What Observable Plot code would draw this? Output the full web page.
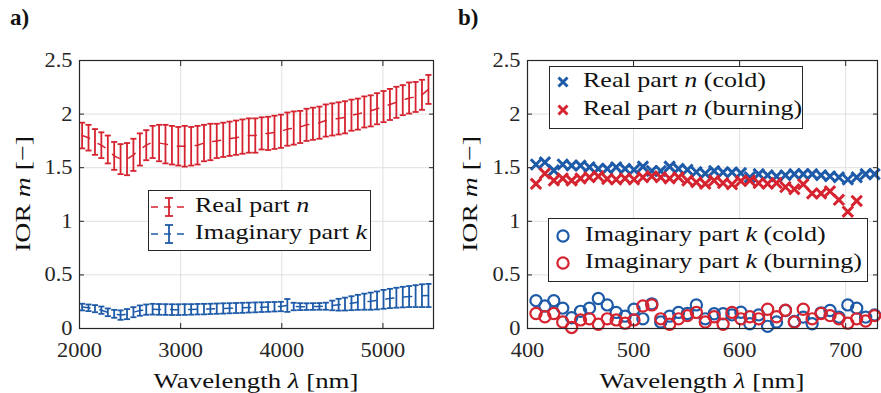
<!DOCTYPE html>
<html><head><meta charset="utf-8">
<script src="https://cdn.jsdelivr.net/npm/d3@7"></script>
<script src="https://cdn.jsdelivr.net/npm/@observablehq/plot@0.6"></script>
<style>
body{margin:0;background:#fff;}
#root{position:relative;width:881px;height:393px;overflow:hidden;font-family:"Liberation Serif","Times New Roman",Times,serif;color:#111;}
.abs{position:absolute;white-space:nowrap;}
.sx{display:inline-block;transform-origin:left center;}
.leg{position:absolute;box-sizing:border-box;border:1.2px solid #262626;background:#fff;}
</style></head><body><div id="root"></div>
<script>
const RED = "#d5232f", BLUE = "#1d5aa8";

// ---------- panel a) data ----------
const wlA = [2026,2089,2153,2216,2280,2343,2406,2470,2533,2597,2660,2723,2787,2850,2914,2977,3040,3104,3167,3231,3294,3357,3421,3484,3548,3611,3674,3738,3801,3865,3928,3991,4055,4118,4182,4245,4308,4372,4435,4499,4562,4625,4689,4752,4816,4879,4942,5006,5069,5133,5196,5259,5323,5386,5450];
const nMean = [1.80,1.78,1.74,1.71,1.67,1.61,1.58,1.58,1.62,1.67,1.71,1.74,1.73,1.72,1.71,1.70,1.70,1.70,1.71,1.73,1.74,1.75,1.76,1.77,1.78,1.79,1.80,1.80,1.82,1.82,1.83,1.84,1.86,1.87,1.88,1.90,1.91,1.92,1.94,1.95,1.96,1.97,1.99,2.00,2.02,2.03,2.05,2.07,2.09,2.11,2.13,2.15,2.16,2.18,2.23];
const nErr = [0.12,0.12,0.12,0.12,0.13,0.13,0.14,0.15,0.15,0.15,0.14,0.15,0.17,0.18,0.18,0.18,0.19,0.18,0.18,0.17,0.17,0.16,0.16,0.16,0.16,0.16,0.16,0.16,0.15,0.155,0.155,0.155,0.155,0.155,0.15,0.15,0.15,0.15,0.15,0.15,0.15,0.15,0.145,0.145,0.145,0.145,0.145,0.145,0.145,0.145,0.14,0.145,0.14,0.14,0.135];
const kMean = [0.200,0.193,0.185,0.171,0.151,0.137,0.125,0.134,0.152,0.167,0.176,0.180,0.178,0.177,0.176,0.176,0.177,0.178,0.180,0.181,0.183,0.185,0.187,0.189,0.191,0.193,0.195,0.197,0.199,0.201,0.203,0.205,0.215,0.205,0.204,0.204,0.205,0.206,0.208,0.215,0.222,0.228,0.236,0.244,0.250,0.255,0.262,0.272,0.280,0.287,0.293,0.298,0.302,0.306,0.308];
const kErr = [0.031,0.031,0.033,0.034,0.036,0.037,0.044,0.047,0.047,0.048,0.048,0.05,0.05,0.05,0.05,0.05,0.05,0.049,0.049,0.049,0.048,0.048,0.048,0.047,0.047,0.047,0.046,0.046,0.045,0.045,0.044,0.044,0.06,0.035,0.032,0.031,0.031,0.031,0.033,0.045,0.055,0.06,0.065,0.07,0.075,0.08,0.084,0.088,0.09,0.093,0.096,0.098,0.102,0.106,0.108];

// ---------- panel b) data ----------
const wlB = [408,416.4,424.8,433.2,441.6,450,458.4,466.8,475.2,483.6,492,500.4,508.8,517.2,525.6,534,542.4,550.8,559.2,567.6,576,584.4,592.8,601.2,609.6,618,626.4,634.8,643.2,651.6,660,668.4,676.8,685.2,693.6,702,710.4,718.8,727.2];
const nCold = [1.53,1.55,1.475,1.53,1.52,1.52,1.505,1.49,1.49,1.505,1.49,1.48,1.51,1.47,1.47,1.51,1.49,1.48,1.46,1.445,1.47,1.457,1.457,1.45,1.41,1.44,1.43,1.42,1.43,1.44,1.44,1.44,1.43,1.42,1.41,1.39,1.41,1.44,1.44];
const nBurn = [1.35,1.445,1.38,1.40,1.38,1.40,1.41,1.42,1.395,1.39,1.40,1.39,1.41,1.42,1.41,1.40,1.41,1.38,1.365,1.35,1.38,1.357,1.345,1.375,1.38,1.357,1.35,1.357,1.32,1.30,1.345,1.26,1.26,1.28,1.20,1.09,1.19];
const kCold = [0.26,0.21,0.26,0.19,0.10,0.16,0.19,0.28,0.22,0.15,0.115,0.18,0.09,0.23,0.06,0.115,0.15,0.14,0.22,0.09,0.137,0.137,0.127,0.152,0.044,0.127,0.02,0.06,0.168,0.065,0.106,0.044,0.146,0.168,0.106,0.22,0.19,0.106,0.127];
const kBurn = [0.14,0.11,0.14,0.06,0.01,0.08,0.09,0.04,0.09,0.08,0.05,0.08,0.21,0.22,0.09,0.04,0.09,0.12,0.15,0.06,0.11,0.04,0.15,0.09,0.11,0.09,0.18,0.11,0.17,0.06,0.18,0.09,0.14,0.12,0.09,0.05,0.09,0.07,0.12];

// ---------- ticks / labels ----------
const yTicks = [0, 0.5, 1, 1.5, 2, 2.5];
const xTicksA = [2000, 3000, 4000, 5000];
const xTicksB = [400, 500, 600, 700];
const xDomainA = [2000, 5500], xDomainB = [400, 730], yDomain = [0, 2.5];
const legendA = ["Real part <i>n</i>", "Imaginary part <i>k</i>"];
const legendB1 = ["Real part <i>n</i> (cold)", "Real part <i>n</i> (burning)"];
const legendB2 = ["Imaginary part <i>k</i> (cold)", "Imaginary part <i>k</i> (burning)"];
const xLabel = "Wavelength <i>λ</i> [nm]";
const yLabel = "IOR <i>m</i> [−]";

const FONT = '"Liberation Serif","Times New Roman",Times,serif';
const AX = "#262626";

function baseMarks(xTicks) {
  const fmt = d => String(d);
  return {
    under: [
      Plot.gridX(xTicks, {stroke: "#e0e0e0", strokeOpacity: 1, strokeWidth: 1}),
      Plot.gridY(yTicks, {stroke: "#e0e0e0", strokeOpacity: 1, strokeWidth: 1})
    ],
    over: [
      Plot.axisX(xTicks, {anchor: "bottom", tickSize: 0, tickPadding: 14, tickFormat: fmt, label: null, fill: AX}),
      Plot.axisY(yTicks, {anchor: "left", tickSize: 0, tickPadding: 7, tickFormat: fmt, label: null, fill: AX}),
      Plot.axisX(xTicks, {anchor: "bottom", tickSize: -5, fill: "none", label: null, stroke: AX}),
      Plot.axisX(xTicks, {anchor: "top", tickSize: -5, fill: "none", label: null, stroke: AX}),
      Plot.axisY(yTicks, {anchor: "left", tickSize: -5, fill: "none", label: null, stroke: AX}),
      Plot.axisY(yTicks, {anchor: "right", tickSize: -5, fill: "none", label: null, stroke: AX}),
      Plot.frame({stroke: AX, strokeWidth: 1.2})
    ]
  };
}

function errMarks(xs, means, errs, color) {
  const data = xs.map((x, i) => ({x, m: means[i], e: errs[i]}));
  const cw = 30;
  return [
    Plot.ruleX(data, {x: "x", y1: d => d.m - d.e, y2: d => d.m + d.e, stroke: color, strokeWidth: 1.8}),
    Plot.link(data, {x1: d => d.x - cw, x2: d => d.x + cw, y1: d => d.m + d.e, y2: d => d.m + d.e, stroke: color, strokeWidth: 1.8}),
    Plot.link(data, {x1: d => d.x - cw, x2: d => d.x + cw, y1: d => d.m - d.e, y2: d => d.m - d.e, stroke: color, strokeWidth: 1.8}),
    Plot.line(data, {x: "x", y: "m", stroke: color, strokeWidth: 1.5, strokeDasharray: "8,10"})
  ];
}

const bmA = baseMarks(xTicksA);
const plotA = Plot.plot({
  width: 440, height: 393, marginLeft: 79, marginRight: 7, marginTop: 60, marginBottom: 65,
  style: {fontFamily: FONT, fontSize: "20px", background: "transparent", overflow: "visible"},
  x: {domain: xDomainA}, y: {domain: yDomain},
  marks: [...bmA.under, ...errMarks(wlA, kMean, kErr, BLUE), ...errMarks(wlA, nMean, nErr, RED), ...bmA.over]
});

const bmB = baseMarks(xTicksB);
const ptsB = (ys) => ys.map((y, i) => ({x: wlB[i], y}));
const plotB = Plot.plot({
  width: 434, height: 393, marginLeft: 80, marginRight: 4, marginTop: 60, marginBottom: 65,
  style: {fontFamily: FONT, fontSize: "20px", background: "transparent", overflow: "visible"},
  x: {domain: xDomainB}, y: {domain: yDomain},
  marks: [
    ...bmB.under,
    Plot.dot(ptsB(nCold), {x: "x", y: "y", symbol: "times", r: 4.8, stroke: BLUE, strokeWidth: 3}),
    Plot.dot(ptsB(nBurn), {x: "x", y: "y", symbol: "times", r: 4.8, stroke: RED, strokeWidth: 3}),
    Plot.dot(ptsB(kCold), {x: "x", y: "y", r: 5.6, stroke: BLUE, strokeWidth: 2.2, fill: "none"}),
    Plot.dot(ptsB(kBurn), {x: "x", y: "y", r: 5.6, stroke: RED, strokeWidth: 2.2, fill: "none"}),
    ...bmB.over
  ]
});

const root = document.getElementById("root");
function place(el, left, top) { el.style.position = "absolute"; el.style.left = left + "px"; el.style.top = top + "px"; root.appendChild(el); }
place(plotA, 0, 0);
place(plotB, 447, 0);

function stretchText(svg, s) {
  svg.querySelectorAll("text").forEach(t => {
    const g = document.createElementNS("http://www.w3.org/2000/svg", "g");
    t.parentNode.insertBefore(g, t); g.appendChild(t);
    const a = getComputedStyle(t).textAnchor;
    const o = a === "end" ? "right" : a === "middle" ? "center" : "left";
    g.style.transformBox = "fill-box"; g.style.transformOrigin = o + " center"; g.style.transform = `scaleX(${s})`;
  });
}
stretchText(plotA, 1.12); stretchText(plotB, 1.12);

function html(tag, cls, style, inner) { const e = document.createElement(tag); if (cls) e.className = cls; e.setAttribute("style", style); e.innerHTML = inner; return e; }

// panel letters
root.appendChild(html("div", "abs", "left:10px;top:6px;font-weight:bold;font-size:23px;line-height:23px;", "a)"));
root.appendChild(html("div", "abs", "left:458px;top:6px;font-weight:bold;font-size:23px;line-height:23px;", "b)"));

// axis labels
for (const cx of [256, 702]) {
  root.appendChild(html("div", "abs", `left:${cx}px;top:381px;font-size:22px;line-height:22px;transform:translate(-50%,-50%) scaleX(1.22);color:#111;`, xLabel));
}
for (const cx of [23, 470]) {
  root.appendChild(html("div", "abs", `left:${cx}px;top:194px;font-size:22px;line-height:22px;transform:translate(-50%,-50%) rotate(-90deg) scaleX(1.26);color:#111;`, yLabel));
}

// legends
function symErr(color) {
  return `<svg width="34" height="22" style="position:absolute;left:0;top:0"><line x1="0" y1="11" x2="34" y2="11" stroke="${color}" stroke-width="1.6" stroke-dasharray="7,6"/><line x1="18" y1="2" x2="18" y2="20" stroke="${color}" stroke-width="1.8"/><line x1="14" y1="2" x2="22" y2="2" stroke="${color}" stroke-width="1.8"/><line x1="14" y1="20" x2="22" y2="20" stroke="${color}" stroke-width="1.8"/></svg>`;
}
function symCross(color) {
  return `<svg width="34" height="22" style="position:absolute;left:0;top:0"><path d="M12.5,6.5 L21.5,15.5 M21.5,6.5 L12.5,15.5" stroke="${color}" stroke-width="3" stroke-linecap="butt"/></svg>`;
}
function symCircle(color) {
  return `<svg width="34" height="22" style="position:absolute;left:0;top:0"><circle cx="17" cy="11" r="5.6" fill="none" stroke="${color}" stroke-width="2.2"/></svg>`;
}
function legend({left, top, width, height, symX, textX, rows}) {
  const box = html("div", "leg", `left:${left}px;top:${top}px;width:${width}px;height:${height}px;`, "");
  root.appendChild(box);
  rows.forEach(r => {
    root.appendChild(html("div", "abs", `left:${symX - 17}px;top:${r.y - 11}px;width:34px;height:22px;`, r.sym));
    root.appendChild(html("div", "abs", `left:${textX}px;top:${r.y - 13}px;font-size:21px;line-height:23px;`, `<span class="sx" style="transform:scaleX(1.24)">${r.text}</span>`));
  });
}
legend({left: 148, top: 190, width: 223, height: 61, symX: 168, textX: 195,
  rows: [{y: 207, sym: symErr(RED), text: legendA[0]}, {y: 234, sym: symErr(BLUE), text: legendA[1]}]});
legend({left: 549, top: 66, width: 254, height: 63, symX: 563, textX: 583,
  rows: [{y: 82, sym: symCross(BLUE), text: legendB1[0]}, {y: 110, sym: symCross(RED), text: legendB1[1]}]});
legend({left: 548, top: 218, width: 320, height: 64, symX: 563, textX: 585,
  rows: [{y: 236, sym: symCircle(BLUE), text: legendB2[0]}, {y: 263, sym: symCircle(RED), text: legendB2[1]}]});
</script></body></html>
